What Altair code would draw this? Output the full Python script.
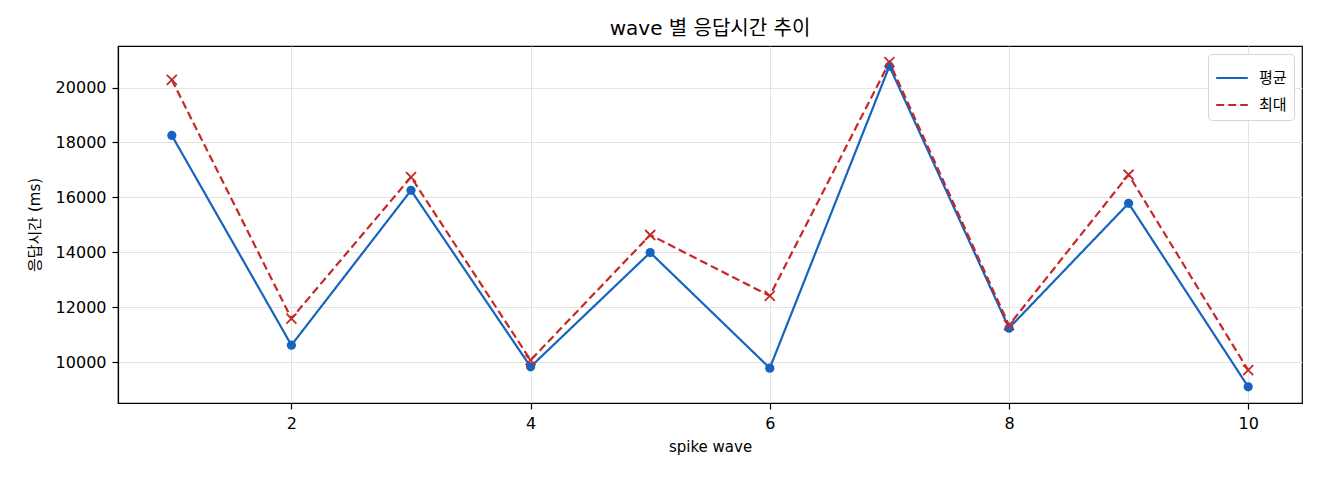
import altair as alt
import pandas as pd

# ---- data ----
waves = [1, 2, 3, 4, 5, 6, 7, 8, 9, 10]
avg_ms = [18255, 10618, 16255, 9830, 13990, 9782, 20776, 11236, 15782, 9103]
max_ms = [20279, 11588, 16739, 10073, 14630, 12412, 20921, 11345, 16824, 9709]
series_names = ["평균", "최대"]
x_ticks = [2, 4, 6, 8, 10]
y_ticks = [10000, 12000, 14000, 16000, 18000, 20000]

BLUE = "#1565c0"
RED = "#c62828"
FONT = "DejaVu Sans, Noto Sans CJK KR"

rows = []
for w, a, m in zip(waves, avg_ms, max_ms):
    rows.append({"wave": w, "series": series_names[0], "ms": a})
    rows.append({"wave": w, "series": series_names[1], "ms": m})
df = pd.DataFrame(rows)

# matplotlib-like 5% margins
allv = avg_ms + max_ms
lo, hi = min(allv), max(allv)
r = hi - lo
y_dom = [lo - 0.05 * r, hi + 0.05 * r]
xr = max(waves) - min(waves)
x_dom = [min(waves) - 0.05 * xr, max(waves) + 0.05 * xr]

x_scale = alt.Scale(domain=x_dom, nice=False, zero=False)
y_scale = alt.Scale(domain=y_dom, nice=False, zero=False)
x_enc = alt.X("wave:Q", scale=x_scale, axis=alt.Axis(values=x_ticks, format="d", title="spike wave"))
y_enc = alt.Y("ms:Q", scale=y_scale, axis=alt.Axis(values=y_ticks, format="d", title="응답시간 (ms)"))

legend = alt.Legend(
    title=None,
    orient="top-right",
    offset=8,
    symbolType="stroke",
    symbolSize=1000,
    symbolStrokeWidth=2.2,
    labelOffset=10,
    labelFontSize=15,
    labelColor="black",
    padding=7,
    strokeColor="#d5d5d5",
    fillColor="white",
    cornerRadius=4,
)

color_enc = alt.Color("series:N", scale=alt.Scale(domain=series_names, range=[BLUE, RED]),
                      legend=legend)
dash_enc = alt.StrokeDash("series:N", scale=alt.Scale(domain=series_names, range=[[1, 0], [8, 4]]),
                          legend=legend)

base = alt.Chart(df)

lines = base.mark_line(strokeWidth=2.2).encode(
    x=x_enc, y=y_enc, color=color_enc, strokeDash=dash_enc, detail="series:N")
pts_avg = base.transform_filter(alt.datum.series == series_names[0]).mark_point(
    shape="circle", filled=True, size=85, opacity=1).encode(x=x_enc, y=y_enc, color=alt.value(BLUE))
pts_max = base.transform_filter(alt.datum.series == series_names[1]).mark_point(
    shape="M-1,-1L1,1M-1,1L1,-1", filled=False, size=100, strokeWidth=1.8, opacity=1).encode(
    x=x_enc, y=y_enc, color=alt.value(RED))

chart = alt.layer(lines, pts_avg, pts_max).properties(
    width=1184,
    height=357,
    title=alt.TitleParams("wave 별 응답시간 추이", fontSize=20, fontWeight="normal",
                          color="black", font=FONT, offset=7, anchor="middle"),
    autosize=alt.AutoSizeParams(type="none"),
    padding={"left": 110, "top": 38, "right": 10, "bottom": 77},
).configure(
    font=FONT,
    background="white",
).configure_view(
    stroke="black", strokeWidth=1.2,
).configure_axis(
    domainColor="black", domainWidth=1.2,
    tickColor="black", tickWidth=1.2, tickSize=6,
    labelFontSize=16, labelColor="black", labelFont=FONT, labelPadding=6,
    titleFontSize=15, titleColor="black", titleFont=FONT, titleFontWeight="normal",
    grid=True, gridColor="#e3e3e3", gridWidth=1,
).configure_axisX(
    titlePadding=8,
).configure_axisY(
    titlePadding=13,
)

chart.save("out.html", embed_options={"renderer": "svg", "actions": False})
